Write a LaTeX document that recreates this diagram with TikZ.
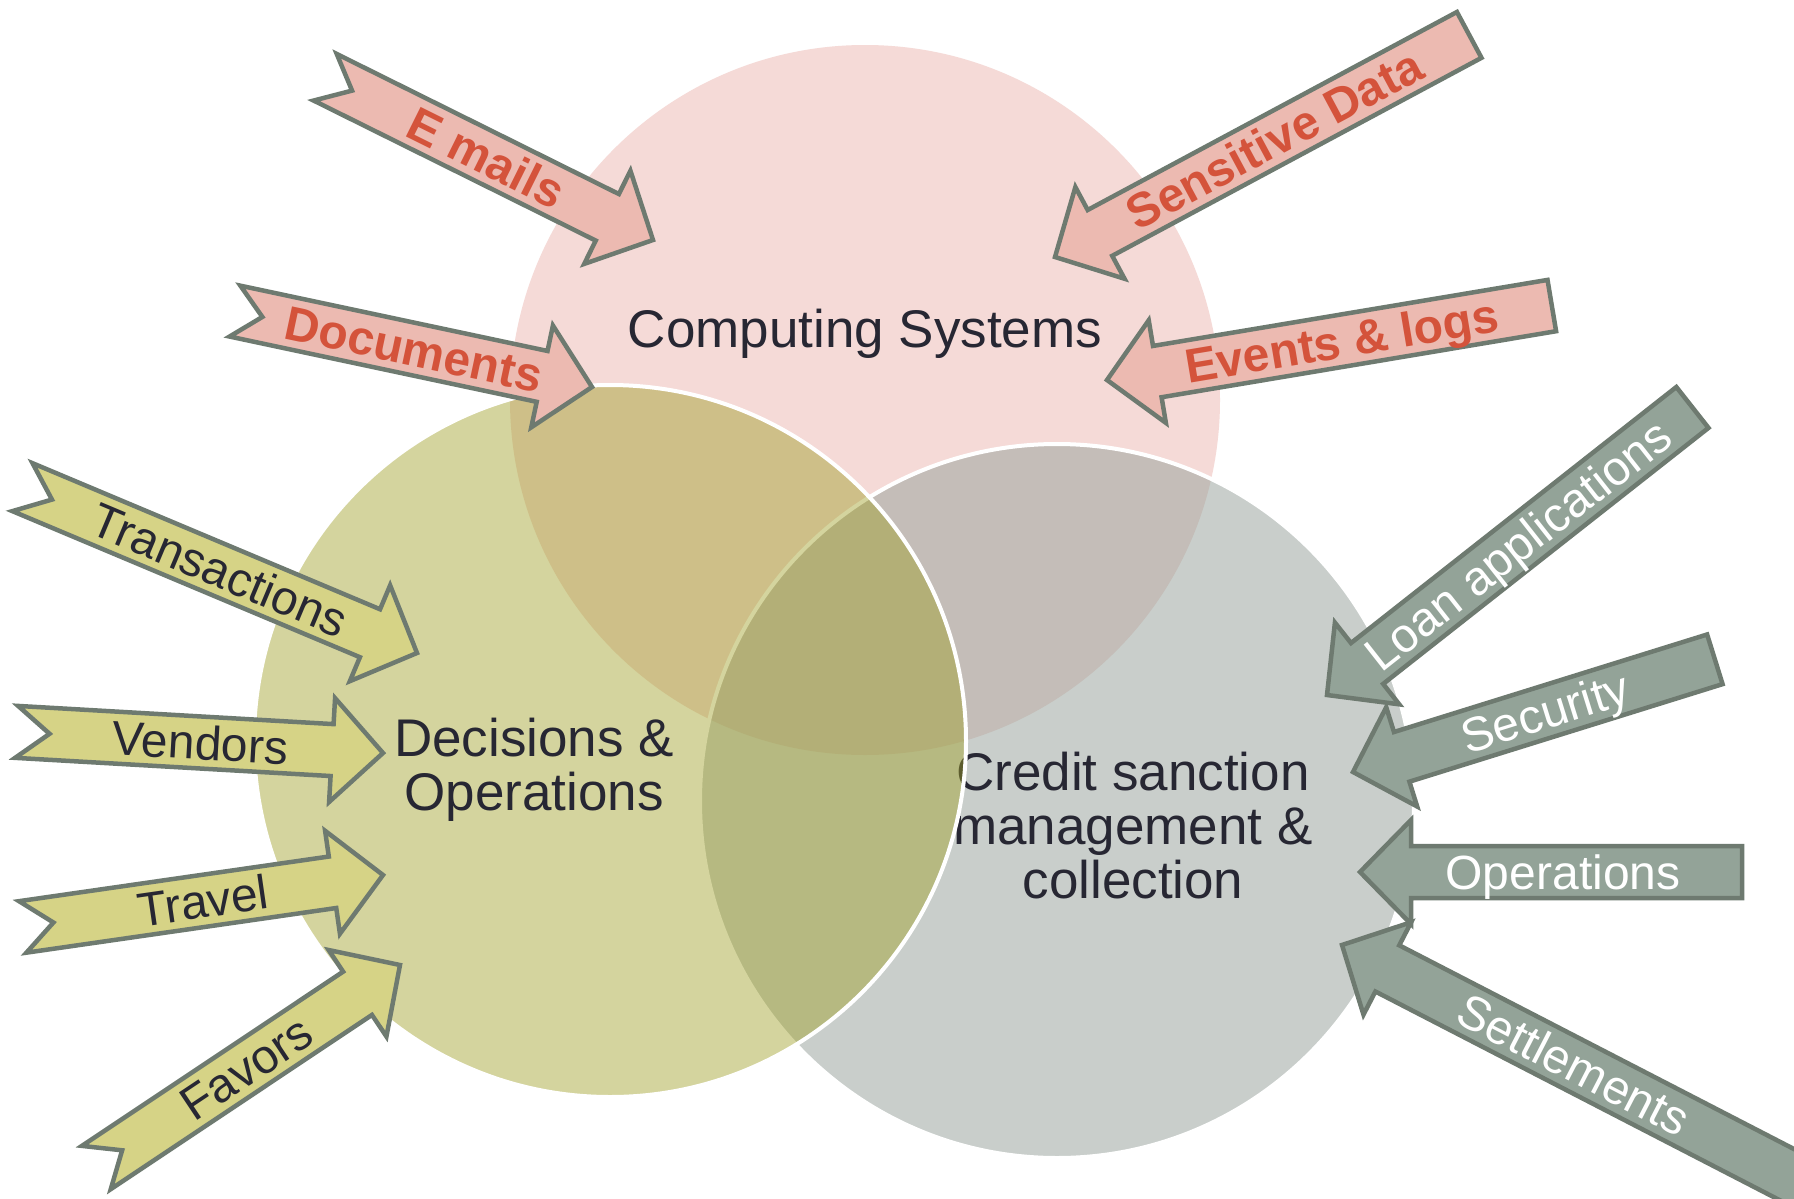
\documentclass[tikz,border=0pt]{standalone}
\usepackage{fontspec}
\setmainfont{Liberation Sans}
\definecolor{pinkc}{HTML}{F5DAD7}
\definecolor{grayc}{HTML}{99A49D}
\definecolor{olivec}{HTML}{A0A028}
\definecolor{pinkarr}{HTML}{ECBAB1}
\definecolor{olivearr}{HTML}{D6D386}
\definecolor{grayarr}{HTML}{93A398}
\definecolor{arrline}{HTML}{6E7A70}
\definecolor{redtxt}{HTML}{D4533B}
\definecolor{darktxt}{HTML}{272733}
\tikzset{
  arrbase/.style={draw=arrline, line width=2.25pt, miter limit=10},
  pinkA/.style={arrbase, fill=pinkarr},
  oliveA/.style={arrbase, fill=olivearr},
  grayA/.style={arrbase, fill=grayarr},
  arrtxt/.style={inner sep=0pt, text height=17pt, text depth=0pt, font=\fontsize{24}{24}\selectfont},
  pinkT/.style={arrtxt, text=redtxt, font=\fontsize{24}{24}\selectfont\bfseries},
  oliveT/.style={arrtxt, text=darktxt},
  grayT/.style={arrtxt, text=white},
  circtxt/.style={inner sep=0pt, align=center, text=darktxt, font=\fontsize{26.5}{27}\selectfont},
}
\newcommand\bigarrow[9]{%
  \begin{scope}[shift={#2},rotate=#3]
    \draw[#6] (0,0) -- (-51,52) -- (-51,26) -- (-#4,26) -- (-#4+#5,0) -- (-#4,-26) -- (-51,-26) -- (-51,-52) -- cycle;
    \node[#7] (#1) at (-#8,0) {#9};
  \end{scope}}
\begin{document}
\begin{tikzpicture}[x=0.5pt,y=-0.5pt]
\useasboundingbox (0,0) rectangle (1794,1199);
\clip (0,0) rectangle (1794,1199);
\fill[white] (0,0) rectangle (1794,1199);
% circles
\fill[pinkc] (865,400) circle[radius=355];
\node[circtxt, text height=19pt, text depth=0pt] (comp) at (865,328) {Computing Systems};
\draw[white, line width=2pt, fill=grayc, fill opacity=0.53] (1057,801) circle[radius=357];
\node[circtxt] (credit) at (1133,826) {Credit sanction\\management \&\\collection};
\draw[white, line width=2pt, fill=olivec, fill opacity=0.45] (610,741) circle[radius=356];
\node[circtxt] (dec) at (534,770) {Decisions \&\\Operations};
% pink arrows
\bigarrow{emails}{(653,240)}{-26.4}{366}{30}{pinkA}{pinkT,rotate=-26.4}{186}{E mails}
\bigarrow{sens}{(1055,257)}{208.2}{470}{0}{pinkA}{pinkT,rotate=28.2}{249}{Sensitive Data}
\bigarrow{docs}{(592,387)}{-12.0}{365}{28}{pinkA}{pinkT,rotate=-12.0}{182}{Documents}
\bigarrow{events}{(1107,380)}{189.5}{451}{0}{pinkA}{pinkT,rotate=9.5}{238}{Events \& logs}
% olive arrows
\bigarrow{trans}{(417,653)}{-22.8}{428}{32}{oliveA}{oliveT,rotate=-22.8}{214}{Transactions}
\bigarrow{vend}{(383,753)}{-3.3}{367}{33}{oliveA}{oliveT,rotate=-3.3}{183}{Vendors}
\bigarrow{trav}{(383,875)}{8.2}{364}{31}{oliveA}{oliveT,rotate=8.2}{182}{Travel}
\bigarrow{fav}{(400,965)}{33.7}{365}{31}{oliveA}{oliveT,rotate=33.7}{185}{Favors}
% gray arrows
\bigarrow{loan}{(1327,695)}{218.2}{465}{0}{grayA}{grayT,rotate=38.2}{243}{Loan applications}
\bigarrow{secu}{(1353,772)}{197.3}{379}{0}{grayA}{grayT,rotate=17.3}{201}{Security}
\bigarrow{oper}{(1360,872)}{180}{382}{0}{grayA}{grayT}{203}{Operations}
\bigarrow{settl}{(1342,945)}{152.7}{522}{0}{grayA}{grayT,rotate=-27.3}{261}{Settlements}
\end{tikzpicture}
\end{document}
